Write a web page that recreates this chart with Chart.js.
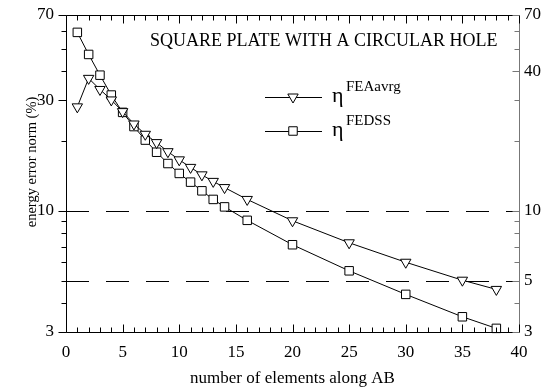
<!DOCTYPE html>
<html>
<head>
<meta charset="utf-8">
<script src="https://cdn.jsdelivr.net/npm/chart.js@4.4.1/dist/chart.umd.min.js"></script>
<style>
  html, body { margin: 0; padding: 0; background: #fff; }
  #wrap { width: 546px; height: 392px; }
</style>
</head>
<body>
<div id="wrap"><canvas id="c" width="546" height="392"></canvas></div>
<script>
// ── data ──
const elements    = [1, 2, 3, 4, 5, 6, 7, 8, 9, 10, 11, 12, 13, 14, 16, 20, 25, 30, 35, 38];
const etaFEAavrg  = [28.1, 37.3, 33.4, 30.1, 26.8, 23.7, 21.4, 19.7, 18.0, 16.6, 15.4, 14.3, 13.4, 12.6, 11.2, 9.06, 7.28, 6.0, 5.02, 4.58];
const etaFEDSS    = [58.9, 47.3, 38.5, 31.6, 26.6, 23.1, 20.2, 17.9, 16.0, 14.5, 13.3, 12.2, 11.2, 10.4, 9.1, 7.14, 5.51, 4.36, 3.49, 3.11];

const xMajor      = [0, 5, 10, 15, 20, 25, 30, 35, 40];
const yLeftLabels = [3, 10, 30, 70];
const yRightLabels= [3, 5, 10, 40, 70];
const yAllTicks   = [3, 4, 5, 6, 7, 8, 9, 10, 20, 30, 40, 50, 60, 70];
const refLines    = [10, 5];

const titleText = 'SQUARE PLATE WITH A CIRCULAR HOLE';
const xTitle = 'number of elements along AB';
const yTitle = 'energy error norm (%)';
const legendItems = [
  { sup: 'FEAavrg', style: 'triangle', rotation: 180 },
  { sup: 'FEDSS',   style: 'rect',     rotation: 0 }
];

const SERIF = '"Liberation Serif", "DejaVu Serif", serif';

// frame, inward/outward ticks, labels, title and legend
const decor = {
  id: 'decor',
  beforeDatasetsDraw(chart) {
    const { ctx, chartArea: a, scales: { y } } = chart;
    ctx.save();
    ctx.strokeStyle = '#000';
    ctx.lineWidth = 1;
    ctx.setLineDash([23, 17]);
    refLines.forEach(v => {
      const py = Math.round(y.getPixelForValue(v)) + 0.5;
      ctx.beginPath(); ctx.moveTo(a.left, py); ctx.lineTo(a.right, py); ctx.stroke();
    });
    ctx.restore();
  },
  afterDraw(chart) {
    const { ctx, chartArea: a, scales: { x, y } } = chart;
    const L = a.left + 0.5, R = a.right + 0.5, T = a.top + 0.5, B = a.bottom + 0.5;
    ctx.save();
    ctx.lineWidth = 1;

    // frame
    ctx.strokeStyle = '#000';
    ctx.beginPath();
    ctx.moveTo(R, T); ctx.lineTo(L, T); ctx.lineTo(L, B); ctx.lineTo(R, B);
    ctx.stroke();
    ctx.strokeStyle = '#777';
    ctx.beginPath(); ctx.moveTo(R, T); ctx.lineTo(R, B); ctx.stroke();

    // x ticks (inward, top and bottom)
    ctx.strokeStyle = '#000';
    ctx.beginPath();
    for (let v = 0; v <= 40; v++) {
      const px = Math.round(x.getPixelForValue(v)) + 0.5;
      const len = v % 5 === 0 ? 8 : 5;
      ctx.moveTo(px, B); ctx.lineTo(px, B - len);
      ctx.moveTo(px, T); ctx.lineTo(px, T + len);
    }
    ctx.stroke();

    // y ticks: left outward, right inward
    ctx.beginPath();
    yAllTicks.forEach(v => {
      const py = Math.round(y.getPixelForValue(v)) + 0.5;
      const len = yLeftLabels.includes(v) ? 8 : 5;
      ctx.moveTo(L, py); ctx.lineTo(L - len, py);
    });
    ctx.stroke();
    ctx.strokeStyle = '#777';
    ctx.beginPath();
    yAllTicks.forEach(v => {
      const py = Math.round(y.getPixelForValue(v)) + 0.5;
      const len = yRightLabels.includes(v) ? 7 : 5;
      ctx.moveTo(R, py); ctx.lineTo(R - len, py);
    });
    ctx.stroke();

    // tick labels
    ctx.fillStyle = '#000';
    ctx.font = '17px ' + SERIF;
    ctx.textBaseline = 'middle';
    ctx.textAlign = 'center';
    xMajor.forEach(v => ctx.fillText(String(v), x.getPixelForValue(v), a.bottom + 21));
    ctx.textAlign = 'right';
    yLeftLabels.forEach(v => ctx.fillText(String(v), a.left - 12, y.getPixelForValue(v)));
    ctx.textAlign = 'left';
    yRightLabels.forEach(v => ctx.fillText(String(v), a.right + 5, y.getPixelForValue(v)));

    // axis titles
    ctx.textAlign = 'center';
    ctx.fillText(xTitle, (a.left + a.right) / 2, a.bottom + 47);
    ctx.save();
    ctx.translate(32, 162);
    ctx.rotate(-Math.PI / 2);
    ctx.font = '14.5px ' + SERIF;
    ctx.fillText(yTitle, 0, 0);
    ctx.restore();

    // title inside the plot
    ctx.textAlign = 'left';
    ctx.font = '18px ' + SERIF;
    ctx.fillText(titleText, 150, 41);

    // legend
    legendItems.forEach((it, i) => {
      const ly = 97 + i * 34;
      ctx.strokeStyle = '#000';
      ctx.lineWidth = 1;
      ctx.setLineDash([]);
      ctx.beginPath(); ctx.moveTo(265, ly + 0.5); ctx.lineTo(322, ly + 0.5); ctx.stroke();
      ctx.fillStyle = '#fff';
      Chart.helpers.drawPoint(ctx, { pointStyle: it.style, radius: 6, rotation: it.rotation, borderWidth: 1 }, 293, ly);
      ctx.fillStyle = '#000';
      ctx.textBaseline = 'alphabetic';
      ctx.font = '22px ' + SERIF;
      ctx.fillText('\u03b7', 332, ly + 5);
      ctx.font = '15px ' + SERIF;
      ctx.fillText(it.sup, 346, ly - 6);
    });

    ctx.restore();
  }
};

const baseDs = {
  borderColor: '#000',
  borderWidth: 1,
  pointBackgroundColor: '#fff',
  pointBorderColor: '#000',
  pointBorderWidth: 1,
  pointRadius: 6,
  pointHoverRadius: 6,
  tension: 0,
  clip: false
};

new Chart(document.getElementById('c'), {
  type: 'line',
  data: {
    datasets: [
      Object.assign({}, baseDs, {
        label: 'FEAavrg',
        data: elements.map((e, i) => ({ x: e, y: etaFEAavrg[i] })),
        pointStyle: 'triangle',
        pointRotation: 180
      }),
      Object.assign({}, baseDs, {
        label: 'FEDSS',
        data: elements.map((e, i) => ({ x: e, y: etaFEDSS[i] })),
        pointStyle: 'rect'
      })
    ]
  },
  options: {
    responsive: false,
    animation: false,
    devicePixelRatio: 1,
    layout: { padding: { left: 66, right: 27, top: 15, bottom: 60 } },
    plugins: { legend: { display: false }, tooltip: { enabled: false } },
    scales: {
      x: { type: 'linear', min: 0, max: 40, display: false },
      y: { type: 'logarithmic', min: 3, max: 70, display: false }
    }
  },
  plugins: [decor]
});
</script>
</body>
</html>
